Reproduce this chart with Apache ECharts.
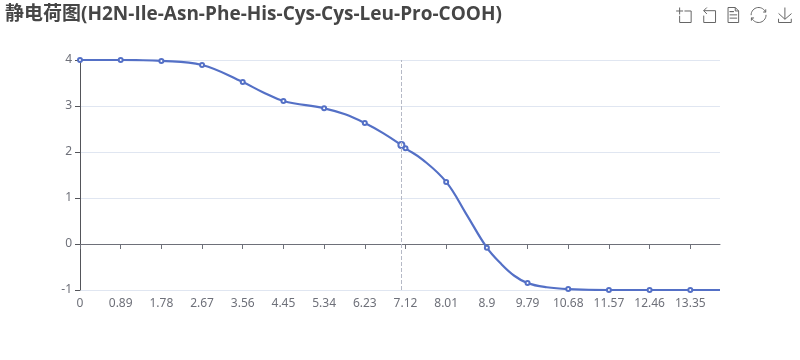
<!DOCTYPE html>
<html><head><meta charset="utf-8">
<style>html,body{margin:0;padding:0;background:#fff}#c{width:800px;height:360px}</style>
<script src="https://cdn.jsdelivr.net/npm/echarts@6/dist/echarts.min.js"></script>
</head><body><div id="c"></div>
<script>
const titleText = '静电荷图(H2N-Ile-Asn-Phe-His-Cys-Cys-Leu-Pro-COOH)';
const tickLabels = [0,0.89,1.78,2.67,3.56,4.45,5.34,6.23,7.12,8.01,8.9,9.79,10.68,11.57,12.46,13.35];
const tickCharge = [4.0,4.0,3.98,3.89,3.52,3.11,2.95,2.63,2.08,1.35,-0.08,-0.85,-0.98,-1.0,-1.0,-1.0];
const curvePH = [0,0.89,1.78,2.67,3.56,4.0,4.45,5.34,5.8,6.23,6.63,7.03,7.12,7.5,8.01,8.45,8.9,9.2,9.5,9.79,10.21,10.68,11.57,12.46,13.35,14];
const curveCharge = [4.0,4.0,3.98,3.89,3.52,3.3,3.11,2.95,2.82,2.63,2.41,2.15,2.08,1.83,1.35,0.65,-0.08,-0.42,-0.69,-0.85,-0.94,-0.98,-1.0,-1.0,-1.0,-1.0];
const hoverPH = 7.03;
const hoverCharge = 2.15;
const blue = '#5470c6';
const font = '"Open Sans","Noto Sans CJK SC",sans-serif';
const chart = echarts.init(document.getElementById('c'));
chart.setOption({
  animation:false,
  textStyle:{fontFamily:'"Noto Sans","Noto Sans CJK SC",sans-serif'},
  title:{text:titleText,left:0,top:0,textStyle:{fontSize:19,fontWeight:'bold',color:'#464646',fontFamily:font}},
  toolbox:{show:true,right:-9,top:-10,itemSize:15,itemGap:7.5,iconStyle:{borderColor:'#666'},feature:{dataZoom:{yAxisIndex:'none'},dataView:{readOnly:false},restore:{},saveAsImage:{}}},
  grid:{left:80,right:80,top:60,bottom:70},
  xAxis:{type:'value',min:0,max:14,splitLine:{show:false},
    axisLine:{onZero:true,lineStyle:{color:'#6e7079'}},
    axisTick:{show:true,customValues:tickLabels,lineStyle:{color:'#6e7079'}},
    axisLabel:{margin:8,color:'#6e7079',fontSize:12,customValues:tickLabels,formatter:v=>String(v)}},
  yAxis:{type:'value',min:-1,max:4,interval:1,axisLabel:{color:'#6e7079',fontSize:12},
    splitLine:{lineStyle:{color:'#e0e6f1'}}},
  series:[
    {type:'line',smooth:0.4,showSymbol:false,data:curvePH.map((x,i)=>[x,curveCharge[i]]),
     lineStyle:{color:blue,width:2.2},itemStyle:{color:blue},
     markLine:{silent:true,symbol:'none',label:{show:false},lineStyle:{type:'dashed',color:'#b5b9c6',width:1},data:[{xAxis:hoverPH}]}},
    {type:'line',showSymbol:true,showAllSymbol:true,symbol:'emptyCircle',symbolSize:4,data:tickLabels.map((x,i)=>[x,tickCharge[i]]),
     lineStyle:{width:0,opacity:0},itemStyle:{color:blue,borderWidth:2},z:3},
    {type:'line',showSymbol:true,showAllSymbol:true,symbol:'emptyCircle',symbolSize:6,data:[[hoverPH,hoverCharge]],
     lineStyle:{width:0,opacity:0},itemStyle:{color:blue,borderWidth:2},z:4}
  ]
});
</script></body></html>
